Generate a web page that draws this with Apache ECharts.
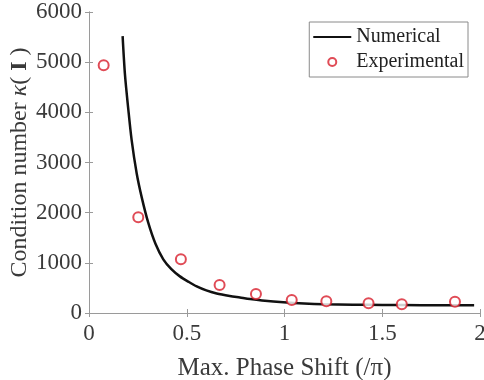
<!DOCTYPE html>
<html><head><meta charset="utf-8">
<script src="https://cdn.jsdelivr.net/npm/echarts@6/dist/echarts.min.js"></script>
<style>html,body{margin:0;padding:0;background:#fff}#c{width:484px;height:380px}</style>
</head><body><div id="c"></div>
<script>
const xTicks = [0, 0.5, 1, 1.5, 2];
const yTicks = [0, 1000, 2000, 3000, 4000, 5000, 6000];
const numX = [0.172,0.184,0.2,0.218,0.244,0.27,0.303,0.34,0.38,0.42,0.465,0.51,0.551,0.6,0.653,0.72,0.772,0.824,0.9,0.994,1.1,1.2,1.35,1.5,1.7,1.85,1.97];
const numY = [5520,4750,4100,3450,2780,2300,1800,1380,1070,880,730,620,530,450,390,340,310,280,245,215,190,175,165,160,155,153,152];
const expX = [0.075,0.252,0.47,0.668,0.854,1.037,1.214,1.43,1.6,1.872];
const expY = [4940,1910,1070,558,379,259,236,193,173,225];

const font = 'Liberation Serif, Times New Roman, serif';
const grey = '#9a9a9a';
const txt = '#3a3a3a';
const red = '#d81e2c';
const chart = echarts.init(document.getElementById('c'));
const axBase = {
  min: xTicks[0], max: xTicks[xTicks.length-1], interval: 0.5, type: 'value'
};
chart.setOption({
  animation: false,
  grid: {left: 89, right: 4, top: 12, bottom: 67, show: false, containLabel: false, outerBoundsMode: 'none'},
  legend: {
    orient: 'vertical', right: 16, top: 22,
    backgroundColor: '#fff', borderColor: '#8a8a8a', borderWidth: 1,
    padding: [5, 4, 5, 3], itemGap: 5, itemWidth: 38, itemHeight: 8,
    textStyle: {fontFamily: font, fontSize: 20, color: '#222'},
    data: [
      {name: 'Numerical', itemStyle: {opacity: 0, color: 'transparent', borderWidth: 0}},
      {name: 'Experimental'}
    ]
  },
  xAxis: [
    Object.assign({}, axBase, {
      position: 'bottom',
      name: 'Max. Phase Shift (/π)', nameLocation: 'middle', nameGap: 43, nameMoveOverlap: false,
      nameTextStyle: {fontFamily: font, fontSize: 25, color: txt},
      axisLine: {lineStyle: {color: grey}}, splitLine: {show: false},
      axisTick: {inside: true, length: 4, lineStyle: {color: grey}},
      axisLabel: {fontFamily: font, fontSize: 23, color: txt, margin: 9, formatter: v => String(v)}
    }),
    Object.assign({}, axBase, {
      position: 'top',
      axisLine: {lineStyle: {color: grey}}, splitLine: {show: false},
      axisTick: {inside: true, length: 4, lineStyle: {color: grey}},
      axisLabel: {show: false}
    })
  ],
  yAxis: [
    {
      type: 'value', min: yTicks[0], max: yTicks[yTicks.length-1], interval: 1000,
      position: 'left',
      name: '{n|Condition number }{i|κ}{n|(}{b| I }{n|)}', nameLocation: 'middle', nameGap: 57, nameMoveOverlap: false,
      nameTextStyle: {fontFamily: font, fontSize: 24, color: txt,
        rich: {
          n: {fontFamily: font, fontSize: 24, color: txt},
          i: {fontFamily: font, fontSize: 24, color: txt, fontStyle: 'italic'},
          b: {fontFamily: font, fontSize: 24, color: txt, fontWeight: 'bold'}
        }},
      axisLine: {show: true, lineStyle: {color: grey}}, splitLine: {show: false},
      axisTick: {show: true, inside: true, length: 4, lineStyle: {color: grey}},
      axisLabel: {fontFamily: font, fontSize: 23, color: txt, margin: 7, formatter: v => String(v)}
    },
    {
      type: 'value', min: yTicks[0], max: yTicks[yTicks.length-1], interval: 1000,
      position: 'right',
      axisLine: {show: true, lineStyle: {color: grey}}, splitLine: {show: false},
      axisTick: {show: true, inside: true, length: 4, lineStyle: {color: grey}},
      axisLabel: {show: false}
    }
  ],
  series: [
    {
      name: 'Numerical', type: 'line', smooth: 0.3, symbol: 'none',
      lineStyle: {color: '#111', width: 2.5}, itemStyle: {color: '#111'},
      data: numX.map((x, i) => [x, numY[i]]), z: 2
    },
    {
      name: 'Experimental', type: 'scatter', symbol: 'emptyCircle', symbolSize: 10,
      itemStyle: {color: red, borderColor: red, borderWidth: 2.8},
      data: expX.map((x, i) => [x, expY[i]]), z: 3
    }
  ]
});
</script></body></html>
